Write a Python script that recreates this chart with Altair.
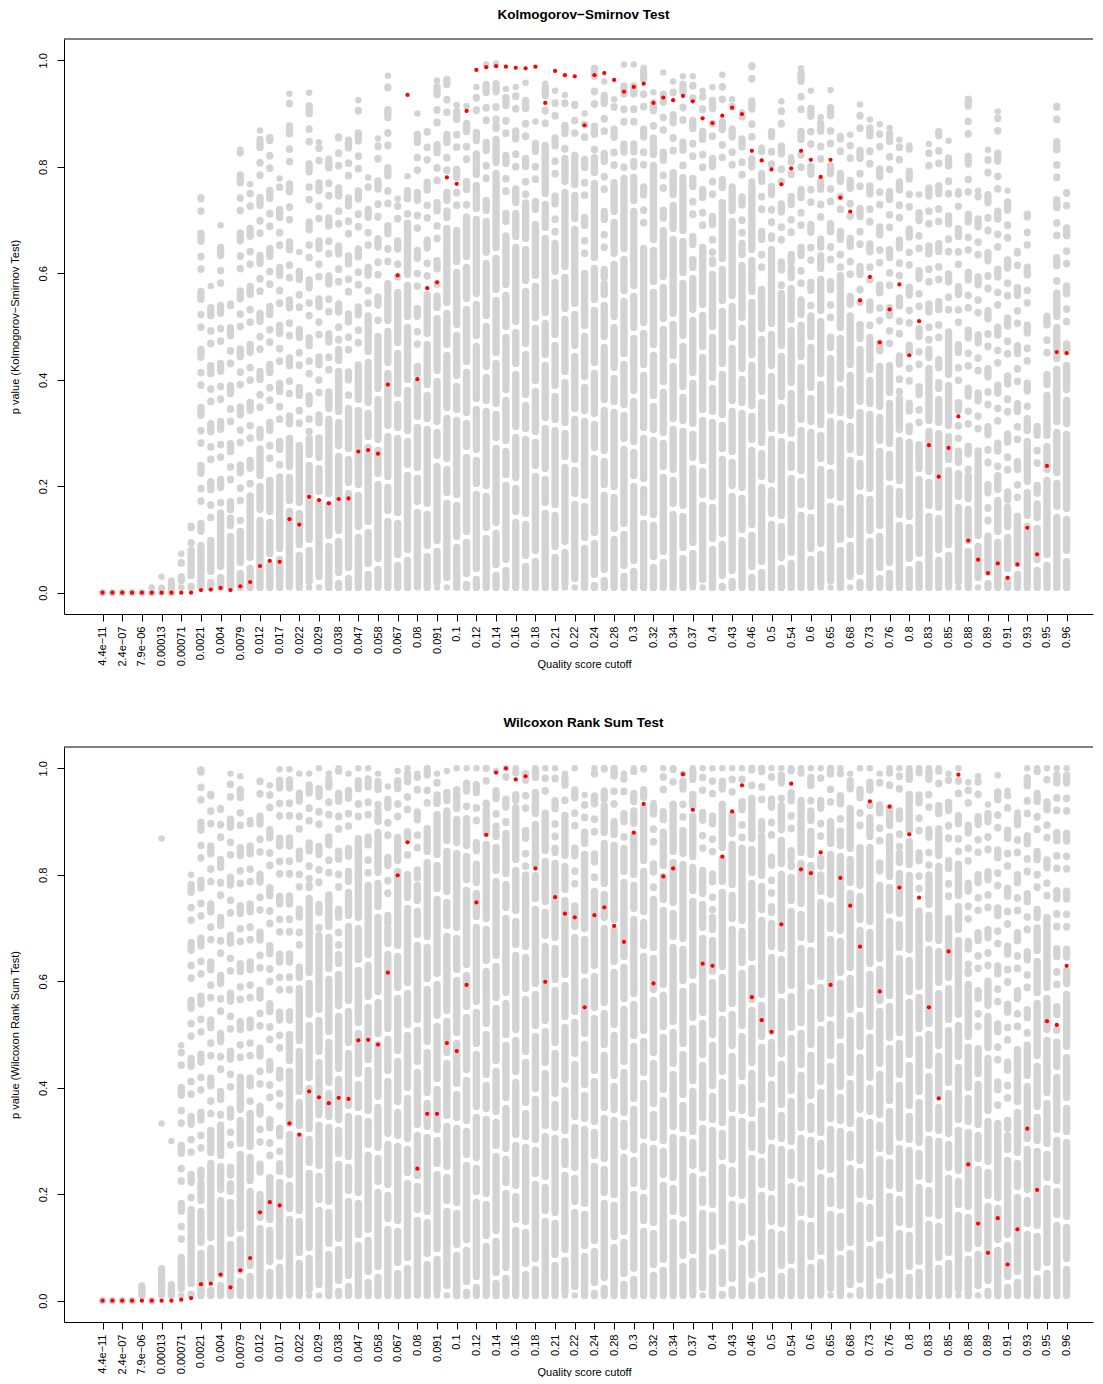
import altair as alt
import pandas as pd

# every other cutoff carries a tick label (99 cutoffs, 50 labels)
cutoff_labels = ['4.4e−11', '2.4e−07', '7.9e−06', '0.00013', '0.00071', '0.0021', '0.004', '0.0079',
                 '0.012', '0.017', '0.022', '0.029', '0.038', '0.047', '0.058', '0.067', '0.08', '0.091',
                 '0.1', '0.12', '0.14', '0.16', '0.18', '0.21', '0.22', '0.24', '0.28', '0.3', '0.32',
                 '0.34', '0.37', '0.4', '0.43', '0.46', '0.5', '0.54', '0.6', '0.65', '0.68', '0.73',
                 '0.76', '0.8', '0.83', '0.85', '0.88', '0.89', '0.91', '0.93', '0.95', '0.96']

# --- Kolmogorov-Smirnov panel ---
# observed p value (red) per cutoff
ks_observed = [
    0, 0, 0, 0, 0, 0, 0, 0, 0, 0,
    0.005, 0.006, 0.009, 0.005, 0.012, 0.020, 0.050, 0.060, 0.058, 0.138,
    0.128, 0.180, 0.174, 0.168, 0.176, 0.177, 0.265, 0.268, 0.261, 0.391,
    0.596, 0.935, 0.401, 0.572, 0.583, 0.780, 0.768, 0.905, 0.982, 0.987,
    0.989, 0.988, 0.986, 0.985, 0.988, 0.920, 0.980, 0.972, 0.970, 0.878,
    0.972, 0.976, 0.963, 0.941, 0.950, 0.956, 0.920, 0.930, 0.925, 0.933,
    0.923, 0.891, 0.882, 0.896, 0.911, 0.899, 0.830, 0.812, 0.795, 0.767,
    0.797, 0.830, 0.813, 0.781, 0.813, 0.742, 0.716, 0.549, 0.593, 0.470,
    0.532, 0.579, 0.446, 0.510, 0.277, 0.218, 0.272, 0.331, 0.098, 0.062,
    0.037, 0.055, 0.028, 0.053, 0.122, 0.072, 0.238, 0.452, 0.450]
# permuted p values (grey): top of the solid stack and highest dot per cutoff
ks_dense = [
    0, 0, 0, 0, 0, 0, 0, 0, 0.03, 0.08,
    0.105, 0.11, 0.15, 0.14, 0.136, 0.18, 0.27, 0.21, 0.21, 0.29,
    0.27, 0.29, 0.29, 0.365, 0.457, 0.365, 0.41, 0.52, 0.50, 0.557,
    0.564, 0.694, 0.396, 0.56, 0.557, 0.717, 0.687, 0.70, 0.824, 0.732,
    0.878, 0.67, 0.748, 0.732, 0.687, 0.824, 0.656, 0.824, 0.80, 0.61,
    0.817, 0.58, 0.77, 0.778, 0.81, 0.656, 0.85, 0.68, 0.786, 0.77,
    0.625, 0.64, 0.625, 0.73, 0.748, 0.656, 0.763, 0.55, 0.67, 0.564,
    0.61, 0.55, 0.52, 0.633, 0.48, 0.61, 0.52, 0.503, 0.472, 0.427,
    0.42, 0.365, 0.312, 0.266, 0.457, 0.388, 0.472, 0.266, 0.22, 0.243,
    0.106, 0.22, 0.16, 0.144, 0.327, 0.167, 0.41, 0.557, 0.427]
ks_upper = [
    0, 0, 0, 0, 0, 0.01, 0.03, 0.023, 0.073, 0.125,
    0.743, 0.576, 0.69, 0.543, 0.832, 0.767, 0.868, 0.855, 0.778, 0.937,
    0.64, 0.939, 0.846, 0.815, 0.856, 0.85, 0.925, 0.78, 0.853, 0.971,
    0.74, 0.782, 0.90, 0.866, 0.962, 0.964, 0.916, 0.914, 0.95, 0.992,
    0.994, 0.946, 0.95, 0.958, 0.885, 0.956, 0.943, 0.935, 0.917, 0.90,
    0.985, 0.96, 0.927, 0.992, 0.992, 0.986, 0.94, 0.977, 0.96, 0.97,
    0.97, 0.943, 0.95, 0.973, 0.927, 0.902, 0.99, 0.836, 0.866, 0.923,
    0.818, 0.985, 0.943, 0.893, 0.944, 0.858, 0.86, 0.917, 0.889, 0.88,
    0.873, 0.851, 0.84, 0.748, 0.843, 0.866, 0.849, 0.754, 0.927, 0.755,
    0.832, 0.904, 0.755, 0.642, 0.711, 0.313, 0.52, 0.914, 0.752]
ks_outlier_col = []
ks_outlier_val = []

# --- Wilcoxon rank sum panel ---
wrs_observed = [
    0, 0, 0, 0, 0, 0, 0, 0, 0.002, 0.005,
    0.031, 0.032, 0.049, 0.025, 0.057, 0.080, 0.166, 0.185, 0.179, 0.333,
    0.312, 0.393, 0.382, 0.371, 0.381, 0.379, 0.489, 0.490, 0.481, 0.616,
    0.799, 0.861, 0.248, 0.351, 0.351, 0.484, 0.469, 0.593, 0.748, 0.875,
    0.992, 1.000, 0.979, 0.985, 0.812, 0.599, 0.758, 0.727, 0.720, 0.551,
    0.724, 0.739, 0.704, 0.674, 0.879, 0.933, 0.596, 0.797, 0.812, 0.989,
    0.922, 0.633, 0.629, 0.834, 0.919, 0.968, 0.570, 0.527, 0.505, 0.707,
    0.971, 0.810, 0.803, 0.842, 0.593, 0.794, 0.742, 0.665, 0.938, 0.581,
    0.928, 0.776, 0.876, 0.757, 0.551, 0.380, 0.656, 0.988, 0.256, 0.145,
    0.090, 0.155, 0.068, 0.134, 0.323, 0.208, 0.525, 0.518, 0.629]
wrs_dense = [
    0, 0, 0, 0, 0.02, 0, 0.06, 0.03, 0.09, 0.18,
    0.22, 0.32, 0.33, 0.22, 0.42, 0.35, 0.22, 0.23, 0.25, 0.50,
    0.62, 0.78, 0.70, 0.75, 0.65, 0.80, 0.85, 0.78, 0.92, 0.70,
    0.88, 0.82, 0.78, 0.90, 0.95, 0.92, 0.96, 0.90, 0.82, 0.93,
    0.88, 0.90, 0.94, 0.80, 0.95, 0.90, 0.85, 0.93, 0.72, 0.88,
    0.78, 0.93, 0.90, 0.85, 0.92, 0.96, 0.75, 0.88, 0.93, 0.90,
    0.95, 0.80, 0.72, 0.93, 0.90, 0.85, 0.96, 0.88, 0.74, 0.93,
    0.82, 0.96, 0.92, 0.80, 0.90, 0.88, 0.94, 0.85, 0.90, 0.78,
    0.92, 0.84, 0.95, 0.72, 0.80, 0.88, 0.70, 0.82, 0.62, 0.45,
    0.60, 0.35, 0.31, 0.48, 0.48, 0.70, 0.72, 0.48, 0.62]
wrs_upper = [
    0, 0, 0, 0, 0.028, 0, 0.06, 0.03, 0.48, 0.80,
    0.997, 0.951, 0.924, 0.99, 0.985, 0.903, 0.976, 0.968, 0.998, 0.998,
    0.99, 0.99, 1.0, 0.99, 1.0, 0.99, 1.0, 1.0, 0.99, 0.966,
    0.995, 1.0, 0.99, 1.0, 0.99, 0.995, 1.0, 1.0, 1.0, 1.0,
    0.995, 1.0, 1.0, 0.99, 1.0, 1.0, 1.0, 0.99, 1.0, 0.95,
    1.0, 1.0, 1.0, 0.99, 1.0, 1.0, 0.935, 1.0, 1.0, 0.99,
    1.0, 1.0, 1.0, 1.0, 1.0, 1.0, 1.0, 1.0, 1.0, 1.0,
    1.0, 1.0, 1.0, 1.0, 1.0, 1.0, 0.99, 1.0, 1.0, 0.99,
    1.0, 1.0, 1.0, 1.0, 1.0, 1.0, 0.99, 1.0, 0.974, 0.985,
    0.932, 0.987, 0.958, 0.917, 1.0, 1.0, 1.0, 1.0, 1.0]
wrs_outlier_col = [6, 6, 7]
wrs_outlier_val = [0.868, 0.333, 0.30]

GREY = '#d3d3d3'
W, H = 1029, 575
DOT = 7.3
FONT = 'Liberation Sans'

label_js = '[' + ','.join("'%s'" % s for s in cutoff_labels) + ']'

x_enc = alt.X(
    'col:Q',
    scale=alt.Scale(domain=[-3.92, 100.68], nice=False, zero=False),
    axis=alt.Axis(
        values=list(range(0, 99, 2)),
        labelExpr=label_js + '[round(datum.value / 2)]',
        labelAngle=270, labelAlign='right', labelBaseline='middle',
        labelPadding=5, labelOverlap=False, labelFlush=False, labelBound=False,
        tickSize=7, grid=False, domainColor='black', tickColor='black',
        labelColor='black', labelFontSize=11, labelFont=FONT,
        title='Quality score cutoff', titleFontSize=11, titleFontWeight='normal',
        titleFont=FONT, titleColor='black', titleX=520, titleY=50,
        titleAlign='center', titleBaseline='middle'
    )
)


def y_enc(field, title):
    return alt.Y(
        field,
        scale=alt.Scale(domain=[-0.04, 1.04], nice=False, zero=False),
        axis=alt.Axis(
            values=[0, 0.2, 0.4, 0.6, 0.8, 1.0], format='.1f',
            labelAngle=270, labelAlign='center', labelBaseline='bottom',
            labelPadding=9, labelFlush=False, tickSize=7, grid=False,
            domainColor='black', tickColor='black', labelColor='black',
            labelFontSize=11, labelFont=FONT,
            title=title, titleFontSize=11, titleFontWeight='normal',
            titleFont=FONT, titleColor='black', titlePadding=17
        )
    )


def panel(observed, dense, upper, out_col, out_val, title, ytitle):
    df = pd.DataFrame({'col': range(len(observed)), 'observed': observed,
                       'dense': dense, 'upper': upper})
    df['floor'] = df['dense'].clip(upper=0.01)
    outl = pd.DataFrame({'col': out_col, 'value': out_val})
    tops = pd.DataFrame({'col': [0]})

    # the stacked grey dots: a solid run with small breaks, then loose dots above it
    solid = alt.Chart(df).mark_rule(
        color=GREY, strokeWidth=DOT, strokeCap='round',
        strokeDash=[52, 11, 31, 11, 74, 11, 23, 11, 40, 11],
        strokeDashOffset=alt.expr('(datum.col * 37) % 120')
    ).encode(x=x_enc, y=y_enc('floor:Q', ytitle), y2='dense:Q')
    sparse = alt.Chart(df).transform_filter('datum.upper > datum.dense').mark_rule(
        color=GREY, strokeWidth=DOT, strokeCap='round', strokeDash=[0.5, 15, 8, 22, 0.5, 12],
        strokeDashOffset=alt.expr('(datum.col * 19) % 60')
    ).encode(x=x_enc, y=y_enc('dense:Q', ytitle), y2='upper:Q')
    base_dot = alt.Chart(df).mark_circle(color=GREY, size=42, opacity=1).encode(
        x=x_enc, y=y_enc('floor:Q', ytitle))
    top_dot = alt.Chart(df).mark_circle(color=GREY, size=42, opacity=1).encode(
        x=x_enc, y=y_enc('upper:Q', ytitle))
    lone = alt.Chart(outl).mark_circle(color=GREY, size=42, opacity=1).encode(
        x=x_enc, y=y_enc('value:Q', ytitle))
    red = alt.Chart(df).mark_circle(color='#ff0000', size=18, opacity=1).encode(
        x=x_enc, y=y_enc('observed:Q', ytitle))
    frame_top = alt.Chart(tops).mark_rule(color='black', strokeWidth=1).encode(
        x=alt.value(0), x2=alt.value(W), y=alt.value(0))

    return alt.layer(solid, sparse, base_dot, top_dot, lone, red, frame_top).properties(
        width=W, height=H,
        title=alt.Title(title, fontSize=13.5, fontWeight='bold', font=FONT, color='black',
                        anchor='middle', frame='group', offset=17, dx=5)
    )


ks = panel(ks_observed, ks_dense, ks_upper, ks_outlier_col, ks_outlier_val,
           'Kolmogorov−Smirnov Test', 'p value (Kolmogorov−Smirnov Test)')
wrs = panel(wrs_observed, wrs_dense, wrs_upper, wrs_outlier_col, wrs_outlier_val,
            'Wilcoxon Rank Sum Test', 'p value (Wilcoxon Rank Sum Test)')

chart = alt.vconcat(ks, wrs, spacing=47).properties(
    padding=0
).configure(font=FONT).configure_view(stroke=None)

chart.save('out.html', embed_options={'renderer': 'svg', 'actions': False})
